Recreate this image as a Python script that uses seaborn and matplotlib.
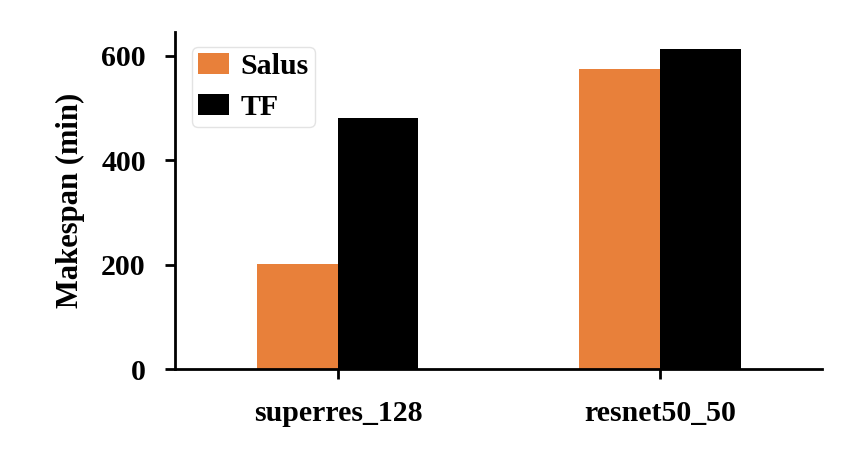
import matplotlib
matplotlib.use("Agg")
import matplotlib.pyplot as plt
import seaborn as sns
import pandas as pd

categories = ["superres_128", "resnet50_50"]
systems = ["Salus", "TF"]
salus_values = [201, 574]
tf_values = [481, 614]
yticks = [0, 200, 400, 600]
colors = ["#E8803A", "#000000"]

df = pd.DataFrame({
    "workload": categories * 2,
    "system": [systems[0]] * len(categories) + [systems[1]] * len(categories),
    "makespan": salus_values + tf_values,
})

sns.set_style("ticks")
plt.rcParams["font.family"] = ["Liberation Serif", "DejaVu Serif"]
plt.rcParams["font.weight"] = "bold"
plt.rcParams["text.color"] = "black"
plt.rcParams["axes.labelcolor"] = "black"
plt.rcParams["xtick.color"] = "black"
plt.rcParams["ytick.color"] = "black"
plt.rcParams["axes.edgecolor"] = "black"

fig = plt.figure(figsize=(8.65, 4.49), dpi=100)
ax = fig.add_axes([0.2023, 0.178, 0.748, 0.751])

sns.barplot(data=df, x="workload", y="makespan", hue="system",
            palette=colors, width=0.5, linewidth=0, saturation=1,
            errorbar=None, ax=ax)

ax.set_xlim(-0.506, 1.503)
ax.set_ylim(0, 646)
ax.set_yticks(yticks)
ax.set_xlabel("")
ax.set_ylabel("Makespan (min)", fontsize=22, fontweight="bold", labelpad=12)
for lab in ax.get_xticklabels() + ax.get_yticklabels():
    lab.set_fontsize(21.5)
    lab.set_fontweight("bold")
ax.tick_params(axis="both", width=2, length=7)
ax.tick_params(axis="y", pad=14)
ax.tick_params(axis="x", pad=15.5)
for s in ["left", "bottom"]:
    ax.spines[s].set_linewidth(2)
sns.despine(ax=ax)

leg = ax.legend(loc="upper left", fontsize=21.5, frameon=True,
                handlelength=1.03, handleheight=0.7, borderpad=0.2,
                labelspacing=0.47, handletextpad=0.4, borderaxespad=0,
                bbox_to_anchor=(0.026, 0.955))
for t in leg.get_texts():
    t.set_fontweight("bold")
leg.get_frame().set_edgecolor("#dddddd")

fig.savefig("out.png", dpi=100)
